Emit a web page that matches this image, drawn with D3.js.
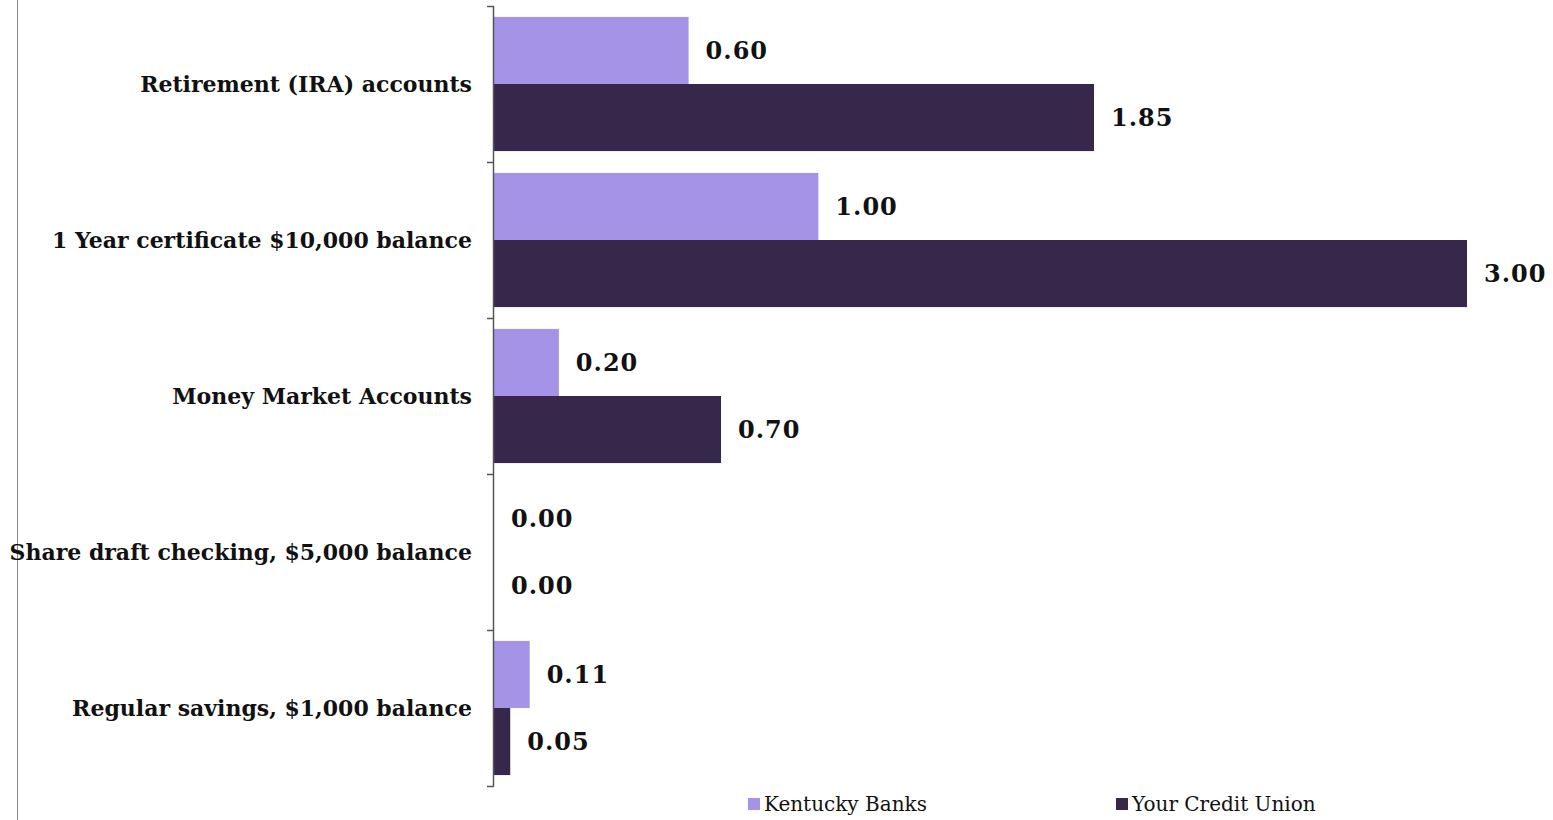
<!DOCTYPE html>
<html><head><meta charset="utf-8">
<script src="https://cdn.jsdelivr.net/npm/d3@7"></script>
<style>body{margin:0;background:#fff}svg{display:block}</style>
</head><body>
<svg id="c" width="1553" height="820"></svg>
<script>
const categories = ["Retirement (IRA) accounts","1 Year certificate $10,000 balance","Money Market Accounts","Share draft checking, $5,000 balance","Regular savings, $1,000 balance"];
const seriesNames = ["Kentucky Banks","Your Credit Union"];
const kentuckyBanks = [0.60, 1.00, 0.20, 0.00, 0.11];
const yourCreditUnion = [1.85, 3.00, 0.70, 0.00, 0.05];
const colors = ["#a593e8","#37274a"];

const svg = d3.select("#c");
const font = "'DejaVu Serif', Georgia, serif";
const x = d3.scaleLinear().domain([0,3]).range([494,1467]);
const y = d3.scaleBand().domain(categories).range([6,786]).paddingInner(0.14).paddingOuter(0.07);
const y1 = d3.scaleBand().domain(seriesNames).range([0,y.bandwidth()]);

svg.append("line").attr("x1",17.5).attr("x2",17.5).attr("y1",0).attr("y2",820).attr("stroke","#888").attr("stroke-width",1);

const data = categories.map((c,i)=>({c, vals:[kentuckyBanks[i], yourCreditUnion[i]]}));
const g = svg.append("g");
data.forEach(d=>{
  d.vals.forEach((v,j)=>{
    const yy = y(d.c)+y1(seriesNames[j]);
    g.append("rect").attr("x",x(0)).attr("y",yy).attr("width",x(v)-x(0)).attr("height",y1.bandwidth()).attr("fill",colors[j]);
    g.append("text").attr("x",x(v)+17).attr("y",yy+y1.bandwidth()/2).attr("dy","0.35em")
      .attr("font-family",font).attr("font-weight","bold").attr("font-size",24).attr("letter-spacing",1)
      .attr("fill","#111").text(v.toFixed(2));
  });
});

// axis with ticks at band boundaries
const tickYs = [6,162,318,474,630,786];
const ax = svg.append("g");
ax.append("line").attr("x1",493.5).attr("x2",493.5).attr("y1",6).attr("y2",786).attr("stroke","#555").attr("stroke-width",1.5);
tickYs.forEach(t=>ax.append("line").attr("x1",487).attr("x2",494).attr("y1",t+0.5).attr("y2",t+0.5).attr("stroke","#555").attr("stroke-width",1.5));
const step = 156;
categories.forEach((c,i)=>{
  svg.append("text").attr("x",472).attr("y",6+step*i+step/2).attr("dy","0.35em").attr("text-anchor","end")
    .attr("font-family",font).attr("font-weight","bold").attr("font-size",22).attr("fill","#111").text(c);
});

// legend
const legX = [748,1116];
seriesNames.forEach((s,i)=>{
  svg.append("rect").attr("x",legX[i]).attr("y",798).attr("width",12).attr("height",12).attr("fill",colors[i]);
  svg.append("text").attr("x",legX[i]+16).attr("y",804).attr("dy","0.35em")
    .attr("font-family",font).attr("font-size",20).attr("fill","#111").text(s);
});
</script>
</body></html>
